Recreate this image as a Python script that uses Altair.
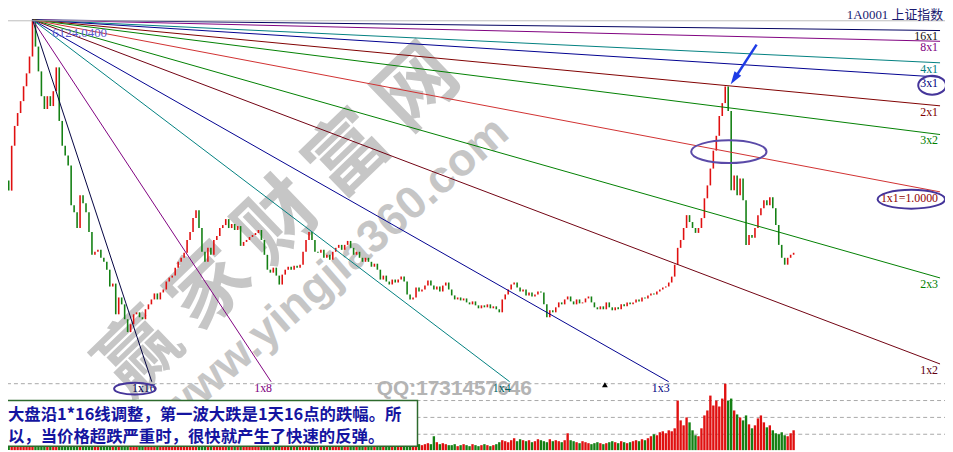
import altair as alt
import pandas as pd

# plot area uses the reference's own pixel grid; the page margin is absorbed by negative padding
W, H = 953, 452
SX, SY = W / 953, H / 452


def px(x):
    return round(x * SX, 1)


def py(y):
    return round(y * SY, 1)


# ---------------- data ----------------
BAR_DAYS = 8                 # trading days per candle
FIRST_OPEN = 3560
closes = [
    3845, 3700, 4337, 4618, 4801, 4970, 5181, 5364, 5603, 6124,
    5744, 5392, 5040, 4858, 5040, 4900, 5111, 5449, 4689, 4337,
    4197, 4056, 3493, 3394, 3169, 3634, 3521, 3394, 3113, 2789,
    2832, 2860, 2747, 2691, 2578, 2339, 2381, 1945, 2184, 2086,
    1875, 1692, 1804, 1945, 1973, 1903, 1875, 2016, 2086, 2156,
    2241, 2156, 2255, 2297, 2410, 2466, 2494, 2607, 2691, 2747,
    2818, 3000, 3113, 3310, 3423, 3169, 2832, 2691, 2888, 2789,
    3000, 3056, 3169, 3211, 3296, 3169, 3226, 3141, 3197, 2916,
    2972, 3000, 3042, 3070, 3099, 3141, 3000, 2789, 2578, 2536,
    2607, 2494, 2367, 2508, 2578, 2621, 2578, 2635, 2607, 2649,
    2832, 3000, 3113, 3000, 2832, 2818, 2860, 2747, 2790, 2719,
    2832, 2888, 2930, 2860, 2930, 2986, 2888, 2790, 2832, 2747,
    2690, 2747, 2690, 2620, 2663, 2578, 2438, 2494, 2410, 2368,
    2438, 2396, 2438, 2480, 2410, 2227, 2156, 2184, 2325, 2269,
    2297, 2353, 2424, 2353, 2297, 2340, 2269, 2353, 2396, 2297,
    2213, 2156, 2184, 2142, 2170, 2114, 2086, 2128, 2072, 2030,
    2072, 2044, 2086, 2030, 2058, 2016, 1973, 2156, 2227, 2297,
    2368, 2396, 2325, 2269, 2297, 2213, 2255, 2198, 2227, 2269,
    2255, 2086, 1903, 2002, 1973, 2044, 2114, 2086, 2156, 2198,
    2128, 2086, 2156, 2100, 2114, 2170, 2198, 2114, 2044, 2016,
    2058, 2016, 2114, 2044, 2002, 2044, 2016, 2086, 2058, 2114,
    2086, 2114, 2156, 2128, 2184, 2170, 2213, 2241, 2227, 2269,
    2297, 2325, 2340, 2396, 2480, 2649, 2888, 3000, 3170, 3352,
    3254, 3170, 3100, 3170, 3310, 3591, 3774, 4013, 4267, 4478,
    4759, 4942, 5178, 4830, 3704, 3915, 3633, 3873, 3563, 2930,
    3070, 3030, 3170, 3352, 3451, 3563, 3493, 3605, 3451, 3212,
    2930, 2747, 2649, 2747, 2790, 2818,
]
volumes = [
    20, 22, 24, 25, 22, 24, 27, 25, 23, 28,
    24, 22, 18, 16, 17, 15, 18, 20, 16, 15,
    14, 15, 17, 14, 13, 15, 16, 13, 12, 14,
    12, 11, 13, 12, 11, 10, 12, 11, 10, 12,
    11, 12, 13, 11, 12, 14, 13, 15, 16, 14,
    15, 17, 16, 18, 19, 17, 20, 21, 19, 22,
    23, 24, 25, 26, 22, 20, 18, 16, 17, 15,
    16, 15, 17, 16, 14, 15, 13, 14, 12, 13,
    12, 13, 12, 11, 13, 14, 12, 13, 15, 11,
    10, 11, 12, 10, 9, 10, 11, 9, 10, 12,
    14, 13, 12, 11, 10, 9, 10, 8, 9, 8,
    9, 8, 10, 9, 8, 7, 8, 9, 7, 8,
    7, 8, 7, 9, 8, 7, 8, 9, 8, 7,
    6, 7, 8, 6, 5, 7, 6, 8, 7, 6,
    5, 6, 7, 6, 14, 8, 6, 7, 6, 5,
    5, 6, 4, 5, 6, 5, 4, 6, 5, 4,
    5, 6, 5, 4, 5, 6, 8, 10, 9, 8,
    10, 12, 9, 11, 10, 9, 10, 8, 9, 11,
    10, 9, 8, 11, 9, 10, 9, 8, 10, 17,
    10, 9, 8, 7, 9, 8, 7, 6, 7, 8,
    7, 6, 7, 8, 9, 8, 7, 9, 8, 7,
    8, 9, 10, 9, 11, 10, 12, 14, 16, 15,
    18, 19, 17, 20, 19, 22, 50, 30, 25, 33,
    28, 20, 15, 14, 22, 35, 40, 55, 45, 50,
    44, 52, 67, 50, 52, 40, 36, 33, 30, 35,
    26, 22, 25, 32, 35, 28, 23, 25, 20, 17,
    16, 18, 15, 14, 17, 20,
]

PEAK_T, PEAK_P = 72, 6124.04
T_DOMAIN = [-1.9, 2514]
P_DOMAIN = [17.7, 6377.3]
P_PANEL_BOTTOM = 988.5
V_DOMAIN = [0, 452]
vol_grid = [67, 50, 33, 16]

fan_names = ["16x1", "8x1", "4x1", "3x1", "2x1", "3x2", "1x1",
             "2x3", "1x2", "1x3", "1x4", "1x8", "1x16"]
fan_colors = ["#000060", "#800080", "#008080", "#000090", "#800000", "#008000", "#d03030",
              "#008000", "#700010", "#000090", "#008080", "#800080", "#000040"]
fan_label_colors = ["#101010", "#800080", "#008080", "#000080", "#800000", "#008000", "#900000",
                    "#008000", "#600010", "#000080", "#006060", "#800080", "#000050"]

UP, DOWN = "#e01010", "#148014"

# ---------------- tables ----------------
opens = [FIRST_OPEN] + closes[:-1]
bars = pd.DataFrame({
    "t": [i * BAR_DAYS for i in range(len(closes))],
    "open": opens,
    "close": closes,
    "vol": volumes,
})
bars["col"] = [UP if c >= o else DOWN for o, c in zip(opens, closes)]

rows = []
for name, col, lcol in zip(fan_names, fan_colors, fan_label_colors):
    a, b = name.split("x")
    slope = float(b) / float(a)
    t1 = T_DOMAIN[1]
    p1 = PEAK_P - slope * (t1 - PEAK_T)
    side = "right"
    if p1 < P_PANEL_BOTTOM:
        t1 = PEAK_T + (PEAK_P - P_PANEL_BOTTOM) / slope
        p1 = P_PANEL_BOTTOM
        side = "bottom"
    rows.append({"name": name, "t0": PEAK_T, "p0": PEAK_P, "t1": t1, "p1": p1,
                 "col": col, "lcol": lcol, "side": side,
                 "label": "1x1=1.0000" if name == "1x1" else name})
fan = pd.DataFrame(rows)

xs = alt.Scale(domain=T_DOMAIN, nice=False, zero=False)
ys = alt.Scale(domain=P_DOMAIN, nice=False, zero=False)
vs = alt.Scale(domain=V_DOMAIN, nice=False, zero=False)
ONE = pd.DataFrame({"k": [0]})

# ---------------- volume panel ----------------
vgrid = alt.Chart(pd.DataFrame({"v": vol_grid})).mark_rule(
    color="#a8a8a8", strokeDash=[4, 3], strokeWidth=1
).encode(y=alt.Y("v:Q", scale=vs, axis=None), x=alt.value(0), x2=alt.value(W))

vbars = alt.Chart(bars).mark_bar(size=2.4).encode(
    x=alt.X("t:Q", scale=xs, axis=None),
    y=alt.Y("vol:Q", scale=vs, axis=None),
    color=alt.Color("col:N", scale=None),
)
volume_layer = alt.layer(vgrid, vbars)

# ---------------- watermark ----------------
WM_GRAY = "#c6c6c6"
wm = []
for k, ch in enumerate("赢家财富网"):
    cx = 282 + (k - 2) * 70
    cy = 222 - (k - 2) * 67
    wm.append(alt.Chart(ONE).mark_text(
        text=ch, angle=316, fontSize=80, font="Noto Sans CJK SC", fontWeight="bold",
        color=WM_GRAY, align="center", baseline="middle"
    ).encode(x=alt.value(px(cx)), y=alt.value(py(cy))))
wm.append(alt.Chart(ONE).mark_text(
    text="www.yingjia360.com", angle=319, fontSize=46, font="Liberation Sans", fontWeight="bold",
    color=WM_GRAY, align="center", baseline="middle"
).encode(x=alt.value(px(337)), y=alt.value(py(272))))
wm.append(alt.Chart(ONE).mark_text(
    text="QQ:1731457646", fontSize=21, font="Liberation Sans", fontWeight="bold",
    color="#b4b4b4", align="left", baseline="middle"
).encode(x=alt.value(px(380)), y=alt.value(py(390))))

# ---------------- price panel ----------------
candles = alt.Chart(bars).mark_rule(strokeWidth=1.6).encode(
    x=alt.X("t:Q", scale=xs, axis=None),
    y=alt.Y("open:Q", scale=ys, axis=None),
    y2="close:Q",
    color=alt.Color("col:N", scale=None),
)

fan_lines = alt.Chart(fan).mark_rule(strokeWidth=1).encode(
    x=alt.X("t0:Q", scale=xs, axis=None),
    y=alt.Y("p0:Q", scale=ys, axis=None),
    x2="t1:Q",
    y2="p1:Q",
    color=alt.Color("col:N", scale=None),
)

right_labels = alt.Chart(fan).transform_filter(alt.datum.side == "right").mark_text(
    align="right", baseline="top", dx=-2, dy=1, fontSize=12, font="Liberation Serif"
).encode(
    x=alt.X("t1:Q", scale=xs, axis=None),
    y=alt.Y("p1:Q", scale=ys, axis=None),
    text="label:N",
    color=alt.Color("lcol:N", scale=None),
)
bottom_labels = alt.Chart(fan).transform_filter(alt.datum.side == "bottom").mark_text(
    align="center", baseline="top", dx=-8, dy=1, fontSize=12, font="Liberation Serif"
).encode(
    x=alt.X("t1:Q", scale=xs, axis=None),
    y=alt.Y("p1:Q", scale=ys, axis=None),
    text="label:N",
    color=alt.Color("lcol:N", scale=None),
)
peak_label = alt.Chart(pd.DataFrame({"t": [PEAK_T], "p": [PEAK_P]})).mark_text(
    text="6124.0400", align="left", baseline="middle", dx=20, dy=13,
    fontSize=13, font="Liberation Serif", color="#5a5ad2"
).encode(x=alt.X("t:Q", scale=xs, axis=None), y=alt.Y("p:Q", scale=ys, axis=None))

price_layer = alt.layer(candles, fan_lines, right_labels, bottom_labels, peak_label)

# ---------------- frame & annotations ----------------
frame = [
    alt.Chart(ONE).mark_rule(color="#bcbcbc", strokeWidth=1).encode(
        x=alt.value(0), x2=alt.value(W), y=alt.value(py(19))),
    alt.Chart(ONE).mark_text(
        text="1A0001 上证指数", align="right", baseline="middle", fontSize=13,
        font="Liberation Serif, Noto Sans CJK SC", color="#1a1a70"
    ).encode(x=alt.value(px(951)), y=alt.value(py(13))),
]


def ellipse_path(k):
    c = 0.5523
    return (f"M-1,0 C-1,{-c*k:.3f} {-c},{-k:.3f} 0,{-k:.3f} "
            f"C{c},{-k:.3f} 1,{-c*k:.3f} 1,0 "
            f"C1,{c*k:.3f} {c},{k:.3f} 0,{k:.3f} "
            f"C{-c},{k:.3f} -1,{c*k:.3f} -1,0 Z")


def ellipse(cx, cy, rx, ry, color="#45359a"):
    return alt.Chart(ONE).mark_point(
        shape=ellipse_path(ry / rx), size=(2 * rx * SX) ** 2, filled=False,
        stroke=color, strokeWidth=2, opacity=1
    ).encode(x=alt.value(px(cx)), y=alt.value(py(cy)))


ARROW = "#1e3ce6"
annots = [
    ellipse(940, 84, 14, 9.5),
    ellipse(735, 151, 38, 11.5, "#5a4aa8"),
    ellipse(919, 199, 34, 9.5),
    ellipse(136, 390, 21, 6),
    alt.Chart(ONE).mark_rule(color=ARROW, strokeWidth=2.5).encode(
        x=alt.value(px(763)), y=alt.value(py(43)), x2=alt.value(px(741)), y2=alt.value(py(77))),
    alt.Chart(ONE).mark_point(
        shape="M0,-1 L0.62,1 L-0.62,1 Z", size=170, angle=213.6, filled=True,
        color=ARROW, opacity=1
    ).encode(x=alt.value(px(740.5)), y=alt.value(py(77.5))),
    alt.Chart(ONE).mark_point(
        shape="triangle-up", size=35, filled=True, color="black", opacity=1
    ).encode(x=alt.value(px(610)), y=alt.value(py(386))),
]

box = [
    alt.Chart(ONE).mark_rect(fill="white", stroke="#2d6a2d", strokeWidth=1.5).encode(
        x=alt.value(px(2)), x2=alt.value(px(421)), y=alt.value(py(402)), y2=alt.value(py(448))),
    alt.Chart(ONE).mark_text(
        text="大盘沿1*16线调整，第一波大跌是1天16点的跌幅。所", align="left", baseline="middle",
        fontSize=16.5, font="Noto Sans CJK SC", fontWeight="bold", color="#1414a0"
    ).encode(x=alt.value(px(8)), y=alt.value(py(417))),
    alt.Chart(ONE).mark_text(
        text="以，当价格超跌严重时，很快就产生了快速的反弹。", align="left", baseline="middle",
        fontSize=16.5, font="Noto Sans CJK SC", fontWeight="bold", color="#1414a0"
    ).encode(x=alt.value(px(8)), y=alt.value(py(439))),
]

chart = alt.layer(
    volume_layer, *wm, price_layer, *frame, *annots, *box
).resolve_scale(y="independent").properties(
    width=W, height=H,
    padding={"left": -8, "top": -8, "right": 0, "bottom": 0},
    autosize=alt.AutoSizeParams(type="none"),
).configure_view(stroke=None)

chart.save("out.html", embed_options={"renderer": "svg", "actions": False})
